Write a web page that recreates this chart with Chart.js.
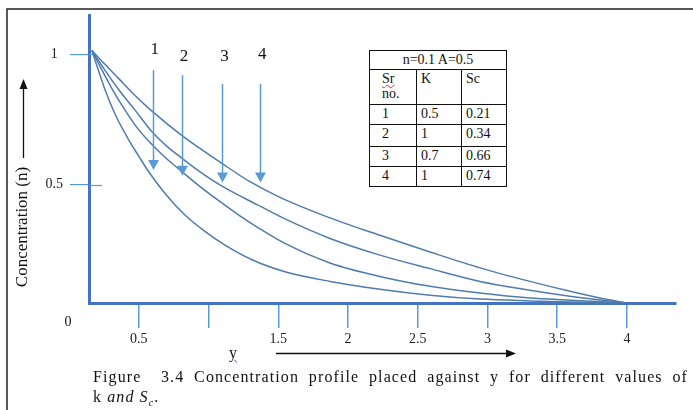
<!DOCTYPE html>
<html><head><meta charset="utf-8">
<script src="https://cdn.jsdelivr.net/npm/chart.js@4"></script>
<style>
html,body{margin:0;padding:0;background:#fff;}
#wrap{position:relative;width:693px;height:410px;overflow:hidden;font-family:"Liberation Serif","Times New Roman",serif;color:#111;}
canvas{position:absolute;left:0;top:0;}
#tbl{position:absolute;left:369px;top:50px;width:138px;border-collapse:collapse;font-size:14px;line-height:15px;background:#fff;}
#tbl td{border:1px solid #111;padding:1px 0 0 4px;vertical-align:top;}
#tbl td.h{text-align:center;padding-left:0;}
#tbl td.c1{padding-left:12px;}
.wr{text-decoration:underline wavy #d33;text-decoration-thickness:1px;}
#ylab{position:absolute;left:229px;top:345px;font-size:16px;line-height:16px;text-decoration:underline wavy #3a5fcd;text-decoration-thickness:1px;}
#cap{position:absolute;left:93px;top:367px;width:595px;font-size:16px;line-height:20px;letter-spacing:1.1px;}
#cap .l1{text-align:justify;text-align-last:justify;white-space:nowrap;}
</style></head><body>
<div id="wrap">
<canvas id="c" width="693" height="410"></canvas>
<table id="tbl">
<tr style="height:19px"><td class="h" colspan="3">n=0.1 A=0.5</td></tr>
<tr style="height:35px"><td class="c1" style="width:34px"><span class="wr">Sr</span><br>no.</td><td style="width:40px">K</td><td>Sc</td></tr>
<tr style="height:20px"><td class="c1">1</td><td>0.5</td><td>0.21</td></tr>
<tr style="height:22px"><td class="c1">2</td><td>1</td><td>0.34</td></tr>
<tr style="height:20px"><td class="c1">3</td><td>0.7</td><td>0.66</td></tr>
<tr style="height:20px"><td class="c1">4</td><td>1</td><td>0.74</td></tr>
</table>
<div id="ylab">y</div>
<div id="cap"><div class="l1">Figure&nbsp; 3.4 Concentration profile placed against y for different values of</div><div>k <i>and S<sub style="font-size:10px">c</sub></i>.</div></div>
</div>
<script>
// ---- data ----
const curve1Y = [0.164,0.207,0.257,0.329,0.422,0.508,0.566,0.688,0.831,0.974,1.118,1.311,1.548,1.871,2.229,2.588,2.947,3.305,3.592,4.0];
const curve1N = [1.015,0.944,0.865,0.771,0.677,0.602,0.553,0.466,0.383,0.320,0.267,0.211,0.165,0.128,0.098,0.075,0.060,0.053,0.049,0.045];
const curve2Y = [0.164,0.221,0.308,0.401,0.494,0.594,0.688,0.795,0.939,1.068,1.225,1.354,1.548,1.871,2.229,2.588,2.947,3.305,3.592,4.0];
const curve2N = [1.015,0.955,0.868,0.786,0.714,0.654,0.605,0.556,0.492,0.440,0.380,0.335,0.274,0.199,0.147,0.109,0.083,0.064,0.056,0.045];
const curve3Y = [0.164,0.257,0.351,0.473,0.594,0.702,0.817,0.939,1.103,1.369,1.548,1.871,2.229,2.588,2.947,3.305,3.592,4.0];
const curve3N = [1.015,0.940,0.868,0.786,0.703,0.647,0.598,0.549,0.492,0.417,0.368,0.293,0.229,0.177,0.128,0.094,0.071,0.045];
const curve4Y = [0.164,0.257,0.351,0.473,0.594,0.810,1.103,1.297,1.512,1.871,2.229,2.588,2.947,3.305,3.592,3.807,4.0];
const curve4N = [1.015,0.962,0.910,0.842,0.782,0.688,0.579,0.511,0.451,0.372,0.305,0.241,0.180,0.128,0.090,0.064,0.045];

const seriesNames = ['1','2','3','4'];
const xTickValues = [0.5,1,1.5,2,2.5,3,3.5,4];
const xTickLabels = ['0.5','','1.5','2','2.5','3','3.5','4'];
const yTickValues = [0.5,1];
const yTickLabels = ['0.5','1'];
const originLabel = '0';
const yTitle = 'Concentration (n)';

// arrow annotations (data coordinates)
const arrowX   = [0.60,0.81,1.10,1.37];
const arrowTop = [0.94,0.92,0.887,0.887];
const arrowTip = [0.556,0.534,0.508,0.508];
const arrowLabelN = [1.02,0.993,0.993,1.0];

const X_MIN = 0.1427, X_MAX = 4.352, Y_MIN = 0.045, Y_MAX = 1.15;

const zip = (xs, ys) => xs.map((v,i)=>({x:v,y:ys[i]}));
const curveColor = '#4f7cad';
const mk = (name, xs, ys) => ({label:name, data:zip(xs,ys), borderColor:curveColor, borderWidth:1.5,
  pointRadius:0, fill:false, cubicInterpolationMode:'monotone'});

const SERIF = '"Liberation Serif","Times New Roman",serif';

function tri(ctx, x, y, w, h, dir) {
  ctx.beginPath();
  if (dir === 'down') { ctx.moveTo(x, y); ctx.lineTo(x-w/2, y-h); ctx.lineTo(x+w/2, y-h); }
  else if (dir === 'up') { ctx.moveTo(x, y); ctx.lineTo(x-w/2, y+h); ctx.lineTo(x+w/2, y+h); }
  else { ctx.moveTo(x, y); ctx.lineTo(x-h, y-w/2); ctx.lineTo(x-h, y+w/2); }
  ctx.closePath(); ctx.fill();
}

const decor = {
  id:'decor',
  beforeDraw(chart){
    const ctx = chart.ctx;
    ctx.save();
    ctx.fillStyle = '#fff'; ctx.fillRect(0,0,chart.width,chart.height);
    ctx.restore();
  },
  afterDraw(chart){
    const ctx = chart.ctx, xs = chart.scales.x, ys = chart.scales.y;
    ctx.save();
    // frame
    ctx.strokeStyle = '#222'; ctx.lineWidth = 1.5;
    ctx.beginPath(); ctx.moveTo(7, 410); ctx.lineTo(7, 9); ctx.lineTo(693, 9); ctx.stroke();
    // inner parts of y ticks
    ctx.strokeStyle = '#5b9bd5'; ctx.lineWidth = 1.2;
    yTickValues.forEach((v,i)=>{
      const py = Math.round(ys.getPixelForValue(v)) + 0.5;
      ctx.beginPath(); ctx.moveTo(xs.left, py); ctx.lineTo(xs.left + (i===0?13:4), py); ctx.stroke();
    });
    // arrows 1-4
    ctx.strokeStyle = '#5b9bd5'; ctx.fillStyle = '#5b9bd5'; ctx.lineWidth = 1.5;
    arrowX.forEach((v,i)=>{
      const px = Math.round(xs.getPixelForValue(v)) + 0.5;
      const t = ys.getPixelForValue(arrowTop[i]), b = ys.getPixelForValue(arrowTip[i]);
      ctx.beginPath(); ctx.moveTo(px, t); ctx.lineTo(px, b - 8); ctx.stroke();
      tri(ctx, px, b, 11, 10, 'down');
    });
    ctx.fillStyle = '#111'; ctx.font = '17px ' + SERIF; ctx.textAlign = 'center'; ctx.textBaseline = 'middle';
    arrowX.forEach((v,i)=>{
      ctx.fillText(seriesNames[i], xs.getPixelForValue(v) + 2, ys.getPixelForValue(arrowLabelN[i]));
    });
    // origin label
    ctx.font = '14px ' + SERIF;
    ctx.fillText(originLabel, xs.left - 21, ys.bottom + 19);
    // y title + arrow
    ctx.save();
    ctx.translate(23, 227); ctx.rotate(-Math.PI/2);
    ctx.font = '17px ' + SERIF; ctx.fillText(yTitle, 0, 0);
    ctx.restore();
    ctx.strokeStyle = '#111'; ctx.fillStyle = '#111'; ctx.lineWidth = 1.3;
    ctx.beginPath(); ctx.moveTo(23.5, 158); ctx.lineTo(23.5, 86); ctx.stroke();
    tri(ctx, 23.5, 79, 8, 10, 'up');
    // x arrow
    ctx.beginPath(); ctx.moveTo(276, 353.5); ctx.lineTo(508, 353.5); ctx.stroke();
    tri(ctx, 516, 353.5, 8, 10, 'right');
    ctx.restore();
  }
};

new Chart(document.getElementById('c'), {
  type:'line',
  data:{datasets:[mk(seriesNames[0],curve1Y,curve1N), mk(seriesNames[1],curve2Y,curve2N),
                  mk(seriesNames[2],curve3Y,curve3N), mk(seriesNames[3],curve4Y,curve4N)]},
  options:{
    responsive:false, animation:false, devicePixelRatio:1,
    layout:{padding:{top:9,right:17,left:0,bottom:0}},
    plugins:{legend:{display:false}, tooltip:{enabled:false}},
    scales:{
      x:{type:'linear', min:X_MIN, max:X_MAX,
        afterFit(s){ s.height = 107; },
        afterBuildTicks(s){ s.ticks = xTickValues.map(v=>({value:v})); },
        ticks:{callback:(v,i)=>xTickLabels[i], color:'#222', padding:3, maxRotation:0, autoSkip:false,
               font:{family:SERIF, size:14}},
        grid:{drawOnChartArea:false, drawTicks:true, tickLength:25, color:'#5b9bd5', lineWidth:1.5},
        border:{display:true, color:'#4472c4', width:3}
      },
      y:{type:'linear', min:Y_MIN, max:Y_MAX,
        afterFit(s){ s.width = 89; },
        afterBuildTicks(s){ s.ticks = yTickValues.map(v=>({value:v})); },
        ticks:{callback:(v,i)=>yTickLabels[i], color:'#222', padding:7, crossAlign:'center', autoSkip:false,
               font:{family:SERIF, size:14}},
        grid:{drawOnChartArea:false, drawTicks:true, tickLength:19, color:'#5b9bd5', lineWidth:1.2},
        border:{display:true, color:'#4472c4', width:3}
      }
    }
  },
  plugins:[decor]
});
</script>
</body></html>
